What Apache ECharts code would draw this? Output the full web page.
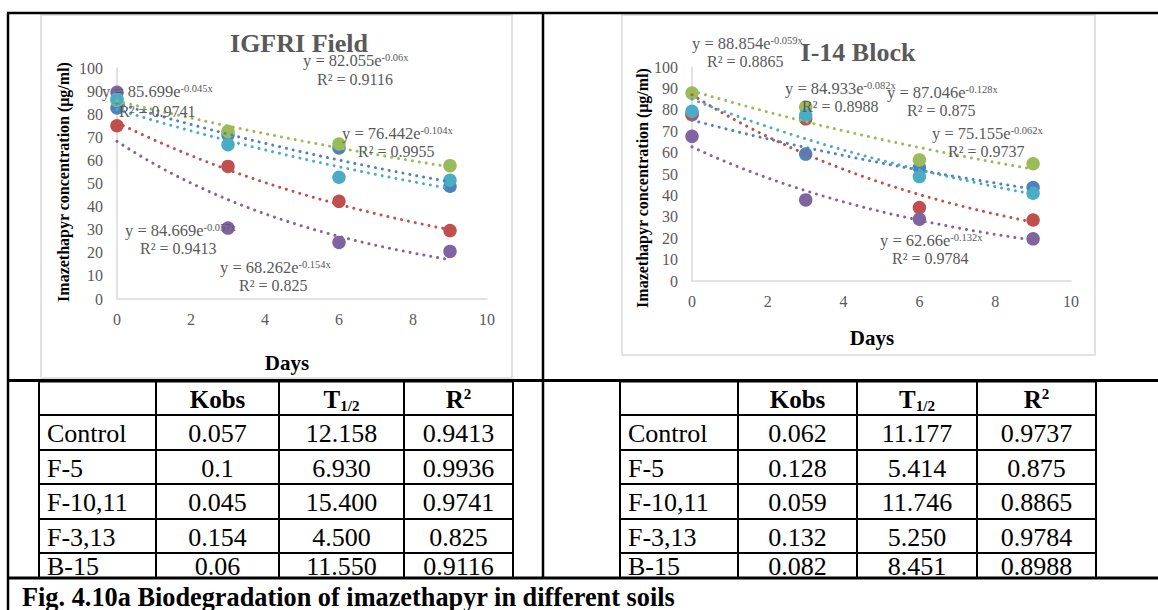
<!DOCTYPE html>
<html><head><meta charset="utf-8">
<script src="https://cdn.jsdelivr.net/npm/echarts@6/dist/echarts.min.js"></script>
<style>html,body{margin:0;padding:0;background:#fff;}#c{width:1158px;height:610px;}</style>
</head><body><div id="c"></div>
<script>
// ---------- DATA ----------
const days = [0, 3, 6, 9];
const seriesNames = ['Control', 'F-5', 'F-10,11', 'F-3,13', 'B-15'];
// IGFRI Field measured concentrations (µg/ml)
const igfriControl = [82.7, 71.0, 65.4, 48.8];
const igfriF5 = [75.0, 57.4, 42.3, 29.6];
const igfriF1011 = [86.0, 72.6, 67.1, 57.7];
const igfriF313 = [89.5, 30.7, 24.5, 20.6];
const igfriB15 = [86.6, 66.8, 52.7, 51.4];
// I-14 Block measured concentrations (µg/ml)
const i14Control = [78.0, 59.3, 53.0, 43.7];
const i14F5 = [77.7, 75.8, 34.3, 28.5];
const i14F1011 = [87.8, 81.3, 56.6, 54.8];
const i14F313 = [67.6, 37.9, 28.9, 19.7];
const i14B15 = [79.3, 77.4, 48.8, 41.0];
// exponential trendline fits shown on the charts: y = a e^(-k x)
const igfriFitA = ['84.669', '76.442', '85.699', '68.262', '82.055'];
const igfriFitK = ['0.057', '0.104', '0.045', '0.154', '0.06'];
const igfriFitR2 = ['0.9413', '0.9955', '0.9741', '0.825', '0.9116'];
const i14FitA = ['75.155', '87.046', '88.854', '62.66', '84.933'];
const i14FitK = ['0.062', '0.128', '0.059', '0.132', '0.082'];
const i14FitR2 = ['0.9737', '0.875', '0.8865', '0.9784', '0.8988'];
// tables
const tableRows = ['Control', 'F-5', 'F-10,11', 'F-3,13', 'B-15'];
const igfriKobs = ['0.057', '0.1', '0.045', '0.154', '0.06'];
const igfriHalf = ['12.158', '6.930', '15.400', '4.500', '11.550'];
const igfriR2 = ['0.9413', '0.9936', '0.9741', '0.825', '0.9116'];
const i14Kobs = ['0.062', '0.128', '0.059', '0.132', '0.082'];
const i14Half = ['11.177', '5.414', '11.746', '5.250', '8.451'];
const i14R2 = ['0.9737', '0.875', '0.8865', '0.9784', '0.8988'];
const xTicks = [0, 2, 4, 6, 8, 10];
const yTicks = [0, 10, 20, 30, 40, 50, 60, 70, 80, 90, 100];
const chartTitles = ['IGFRI Field', 'I-14 Block'];
const caption = 'Fig. 4.10a Biodegradation of imazethapyr in different soils';

// ---------- STYLE / LAYOUT ----------
const colors = ['#4F81BD', '#C0504D', '#9BBB59', '#8064A2', '#4BACC6'];
const SERIF = '"Liberation Serif","Times New Roman",serif';
const GRAY = '#595959';
const igfriData = [igfriControl, igfriF5, igfriF1011, igfriF313, igfriB15];
const i14Data = [i14Control, i14F5, i14F1011, i14F313, i14B15];

const chart = echarts.init(document.getElementById('c'), null, {renderer: 'svg'});

function trend(a, k) {
  const pts = [];
  for (let i = 0; i <= 36; i++) { const x = i * 0.25; pts.push([x, (+a) * Math.exp(-(+k) * x)]); }
  return pts;
}

const series = [];
[igfriData, i14Data].forEach((set, g) => {
  const A = g === 0 ? igfriFitA : i14FitA, K = g === 0 ? igfriFitK : i14FitK;
  set.forEach((vals, i) => {
    series.push({type: 'scatter', name: seriesNames[i], xAxisIndex: g, yAxisIndex: g,
      data: days.map((d, j) => [d, vals[j]]), symbolSize: 13.5,
      itemStyle: {color: colors[i], opacity: 1}, z: 2, silent: true});
  });
  set.forEach((vals, i) => {
    series.push({type: 'line', xAxisIndex: g, yAxisIndex: g, data: trend(A[i], K[i]),
      showSymbol: false, symbol: 'none', z: 3, silent: true,
      lineStyle: {color: colors[i], width: 3, type: [0.01, 7], cap: 'round'}});
  });
});

function axisX(gi) {
  return {type: 'value', gridIndex: gi, min: 0, max: 10, interval: 2,
    axisLine: {show: true, lineStyle: {color: '#d9d9d9', width: 1.5}},
    axisTick: {show: false}, splitLine: {show: false},
    axisLabel: {margin: 12, fontSize: 16, fontFamily: SERIF, color: GRAY,
      formatter: v => xTicks.includes(v) ? String(v) : ''}};
}
function axisY(gi) {
  return {type: 'value', gridIndex: gi, min: 0, max: 100, interval: 10,
    axisLine: {show: true, lineStyle: {color: '#d9d9d9', width: 1.5}},
    axisTick: {show: false}, splitLine: {show: false},
    axisLabel: {margin: 14, fontSize: 16, fontFamily: SERIF, color: GRAY,
      formatter: v => yTicks.includes(v) ? String(v) : ''}};
}

const G = [];
function txt(x, y, text, o) {
  o = o || {};
  G.push({type: 'text', x: x, y: y, z: 50, rotation: o.rot || 0, silent: true,
    style: Object.assign({text: text, fill: o.fill || '#000', fontFamily: SERIF,
      fontSize: o.size || 16, fontWeight: o.bold ? 'bold' : 'normal',
      align: o.align || 'left', verticalAlign: o.va || 'middle'}, o.rich ? {rich: o.rich} : {})});
}
function line(x1, y1, x2, y2, w, c) {
  G.push({type: 'line', z: 40, silent: true, shape: {x1: x1, y1: y1, x2: x2, y2: y2},
    style: {stroke: c || '#000', lineWidth: w || 2}});
}
function rect(x, y, w, h, c) {
  G.push({type: 'rect', z: 1, silent: true, shape: {x: x, y: y, width: w, height: h},
    style: {fill: 'none', stroke: c, lineWidth: 1.5}});
}

// chart frames
rect(41, 15, 471, 363, '#d9d9d9');
rect(622, 15, 473, 340, '#d9d9d9');

// titles and axis names
txt(299, 43, chartTitles[0], {size: 26, bold: true, fill: GRAY, align: 'center'});
txt(858, 52, chartTitles[1], {size: 26, bold: true, fill: GRAY, align: 'center'});
txt(287, 363, 'Days', {size: 21, bold: true, align: 'center'});
txt(872, 338, 'Days', {size: 21, bold: true, align: 'center'});
txt(63, 182, 'Imazethapyr concentration (μg/ml)', {size: 16, bold: true, align: 'center', rot: Math.PI / 2});
txt(642, 188, 'Imazethapyr concentration (μg/ml)', {size: 16, bold: true, align: 'center', rot: Math.PI / 2});

// equation labels
const eqRich = {m: {fontSize: 16.5, fontFamily: SERIF, fill: GRAY},
  s: {fontSize: 10.5, fontFamily: SERIF, fill: GRAY, verticalAlign: 'top', lineHeight: 17}};
const igfriLblPos = [[125, 230, 140, 248], [342, 133, 358, 151], [102, 91, 119, 111], [220, 267, 239, 285], [303, 60, 317, 79]];
const i14LblPos = [[932, 133, 948, 151], [887, 92, 907, 110], [692, 43, 707, 61], [880, 240, 892, 258], [785, 88, 802, 106]];
[[igfriFitA, igfriFitK, igfriFitR2, igfriLblPos], [i14FitA, i14FitK, i14FitR2, i14LblPos]].forEach(([A, K, R, P]) => {
  A.forEach((a, i) => {
    txt(P[i][0], P[i][1], '{m|y = ' + a + 'e}{s|-' + K[i] + 'x}', {rich: eqRich, fill: GRAY, size: 16.5});
    txt(P[i][2], P[i][3], 'R² = ' + R[i], {size: 16, fill: GRAY});
  });
});

// outer frame
line(7, 13, 1158, 13, 2.5);
line(8, 13, 8, 610, 2.5);
line(543, 13, 543, 578, 2.5);
line(7, 380.5, 1158, 380.5, 3);
line(7, 578, 1158, 578, 3);

// tables
const rowY = [381, 415, 450, 484, 519, 553, 578];
function table(cols, kobs, half, r2) {
  rowY.forEach((y, i) => { if (i > 0 && i < rowY.length - 1) line(cols[0], y, cols[4], y, 2); });
  line(cols[0], 381, cols[4], 381, 3);
  cols.forEach(x => line(x, 381, x, 578, 2));
  const hy = (rowY[0] + rowY[1]) / 2 + 1;
  txt((cols[1] + cols[2]) / 2, hy, 'Kobs', {size: 25, bold: true, align: 'center'});
  txt((cols[2] + cols[3]) / 2, hy, '{b|T}{sub|1/2}', {align: 'center', rich: {
    b: {fontSize: 25, fontWeight: 'bold', fontFamily: SERIF, fill: '#000'},
    sub: {fontSize: 15, fontWeight: 'bold', fontFamily: SERIF, fill: '#000', verticalAlign: 'bottom', lineHeight: 29}}});
  txt((cols[3] + cols[4]) / 2, hy, '{b|R}{sup|2}', {align: 'center', rich: {
    b: {fontSize: 25, fontWeight: 'bold', fontFamily: SERIF, fill: '#000'},
    sup: {fontSize: 15, fontWeight: 'bold', fontFamily: SERIF, fill: '#000', verticalAlign: 'top', lineHeight: 25}}});
  tableRows.forEach((r, i) => {
    const y = (rowY[i + 1] + rowY[i + 2]) / 2 + 1;
    txt(cols[0] + 8, y, r, {size: 26});
    txt((cols[1] + cols[2]) / 2, y, kobs[i], {size: 26, align: 'center'});
    txt((cols[2] + cols[3]) / 2, y, half[i], {size: 26, align: 'center'});
    txt((cols[3] + cols[4]) / 2, y, r2[i], {size: 26, align: 'center'});
  });
}
table([39, 156, 279, 404, 513], igfriKobs, igfriHalf, igfriR2);
table([620, 738, 857, 977, 1096], i14Kobs, i14Half, i14R2);

// caption
txt(22, 597, caption, {size: 26.3, bold: true});

chart.setOption({
  animation: false,
  backgroundColor: '#fff',
  grid: [{left: 117, top: 68, width: 370, height: 231}, {left: 692, top: 67, width: 379, height: 214}],
  xAxis: [axisX(0), axisX(1)],
  yAxis: [axisY(0), axisY(1)],
  series: series,
  graphic: G
});
</script></body></html>
